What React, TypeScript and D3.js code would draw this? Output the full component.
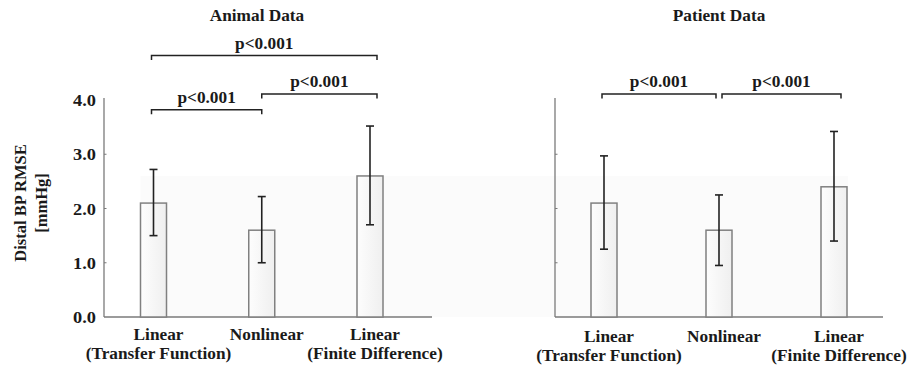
import { useEffect, useRef } from 'react';
import * as d3 from 'd3';

const CATEGORY_LINES = [
  ['Linear', '(Transfer Function)'],
  ['Nonlinear'],
  ['Linear', '(Finite Difference)'],
];

const ANIMAL_MEAN = [2.1, 1.6, 2.6];
const ANIMAL_LOW = [1.5, 1.0, 1.7];
const ANIMAL_HIGH = [2.72, 2.22, 3.52];

const PATIENT_MEAN = [2.1, 1.6, 2.4];
const PATIENT_LOW = [1.25, 0.95, 1.4];
const PATIENT_HIGH = [2.97, 2.25, 3.42];

const Y_TICKS = [0, 1, 2, 3, 4];

// [from, to, level in y units]
const ANIMAL_BRACKETS: [number, number, number][] = [
  [0, 1, 3.82],
  [1, 2, 4.11],
  [0, 2, 4.82],
];
const PATIENT_BRACKETS: [number, number, number][] = [
  [0, 1, 4.11],
  [1, 2, 4.11],
];

const FONT = '"Liberation Serif", "Times New Roman", serif';
const SX = 1.08;

export default function App() {
  const svgRef = useRef<SVGSVGElement>(null);

  useEffect(() => {
    if (!svgRef.current) return;
    const svg = d3.select(svgRef.current);
    svg.selectAll('*').remove();

    const y = d3.scaleLinear().domain([0, 4]).range([317, 100]);

    const defs = svg.append('defs');
    const grad = defs.append('linearGradient').attr('id', 'barFill')
      .attr('x1', '0%').attr('x2', '100%').attr('y1', '0%').attr('y2', '0%');
    grad.append('stop').attr('offset', '0%').attr('stop-color', '#fdfdfd');
    grad.append('stop').attr('offset', '100%').attr('stop-color', '#efefef');

    const text = (g: any, x: number, yy: number, str: string, size: number, anchor = 'middle') =>
      g.append('text')
        .attr('transform', `translate(${x},${yy}) scale(${SX},1)`)
        .attr('text-anchor', anchor)
        .attr('font-family', FONT).attr('font-weight', 'bold')
        .attr('font-size', size).attr('fill', '#1a1a1a')
        .text(str);

    const x0 = d3.scalePoint<number>().domain([0, 1, 2]).range([153.5, 370]);
    const x1 = d3.scalePoint<number>().domain([0, 1, 2]).range([604, 834]);

    // faint background band
    svg.append('rect')
      .attr('x', x0(0)! - 13).attr('y', y(2.6))
      .attr('width', x1(2)! + 14 - (x0(0)! - 13)).attr('height', y(0) - y(2.6))
      .attr('fill', '#fbfbfb');

    const drawPanel = (
      title: string, axisX: number, axisEnd: number, x: d3.ScalePoint<number>,
      mean: number[], low: number[], high: number[],
      brackets: [number, number, number][], showTickLabels: boolean, labelShift: number, inset: number,
    ) => {
      const g = svg.append('g');
      const titleX = (axisX + axisEnd) / 2 + (showTickLabels ? -11 : 0);
      text(g, titleX, 21, title, 16);

      // axes
      g.append('line').attr('x1', axisX).attr('x2', axisX).attr('y1', y(4) - 2).attr('y2', y(0))
        .attr('stroke', '#7a7a7a').attr('stroke-width', 1.3);
      g.append('line').attr('x1', axisX).attr('x2', axisEnd).attr('y1', y(0)).attr('y2', y(0))
        .attr('stroke', '#7a7a7a').attr('stroke-width', 1.3);
      g.selectAll('.tick').data(Y_TICKS.slice(1, 4)).join('line')
        .attr('x1', axisX).attr('x2', axisX + 2.5)
        .attr('y1', d => y(d)).attr('y2', d => y(d))
        .attr('stroke', '#7a7a7a').attr('stroke-width', 1);
      if (showTickLabels) {
        Y_TICKS.forEach(t => text(g, axisX - 8, y(t) + 6, d3.format('.1f')(t), 17, 'end'));
      }

      const bw = 26;
      g.selectAll('rect.bar').data(mean).join('rect')
        .attr('x', (_, i) => x(i)! - bw / 2).attr('y', d => y(d))
        .attr('width', bw).attr('height', d => y(0) - y(d))
        .attr('fill', 'url(#barFill)').attr('stroke', '#808080').attr('stroke-width', 1.5);

      mean.forEach((_, i) => {
        const cx = x(i)!;
        g.append('line').attr('x1', cx).attr('x2', cx).attr('y1', y(high[i])).attr('y2', y(low[i]))
          .attr('stroke', '#222').attr('stroke-width', 1.6);
        [high[i], low[i]].forEach(v => {
          g.append('line').attr('x1', cx - 4).attr('x2', cx + 4).attr('y1', y(v)).attr('y2', y(v))
            .attr('stroke', '#222').attr('stroke-width', 1.6);
        });
      });

      CATEGORY_LINES.forEach((lines, i) => {
        lines.forEach((l, j) => text(g, x(i)! + 5, 340 + labelShift + j * 19, l, 16));
      });

      brackets.forEach(([a, b, lvl]) => {
        const xa = x(a)! + (a > 0 ? inset : -2);
        const xb = x(b)! + (b < 2 ? -inset : 7);
        const yl = y(lvl);
        g.append('path')
          .attr('d', `M${xa},${yl + 4.5}V${yl}H${xb}V${yl + 4.5}`)
          .attr('fill', 'none').attr('stroke', '#222').attr('stroke-width', 1.5);
        text(g, (xa + xb) / 2, yl - 7, 'p<0.001', 16);
      });
    };

    drawPanel('Animal Data', 104, 432, x0, ANIMAL_MEAN, ANIMAL_LOW, ANIMAL_HIGH, ANIMAL_BRACKETS, true, 0, 0);
    drawPanel('Patient Data', 555, 883, x1, PATIENT_MEAN, PATIENT_LOW, PATIENT_HIGH, PATIENT_BRACKETS, false, 2, 3);

    // y axis title
    const yt = svg.append('g').attr('transform', 'translate(26,203) rotate(-90)');
    yt.append('text').attr('text-anchor', 'middle').attr('font-family', FONT).attr('font-weight', 'bold')
      .attr('font-size', 16.5).attr('fill', '#1a1a1a').text('Distal BP RMSE');
    yt.append('text').attr('y', 21).attr('text-anchor', 'middle').attr('font-family', FONT).attr('font-weight', 'bold')
      .attr('font-size', 16.5).attr('fill', '#1a1a1a').text('[mmHg]');
  }, []);

  return (
    <svg ref={svgRef} width={911} height={374}
      style={{ position: 'absolute', left: 0, top: 0, background: '#fff' }} />
  );
}
